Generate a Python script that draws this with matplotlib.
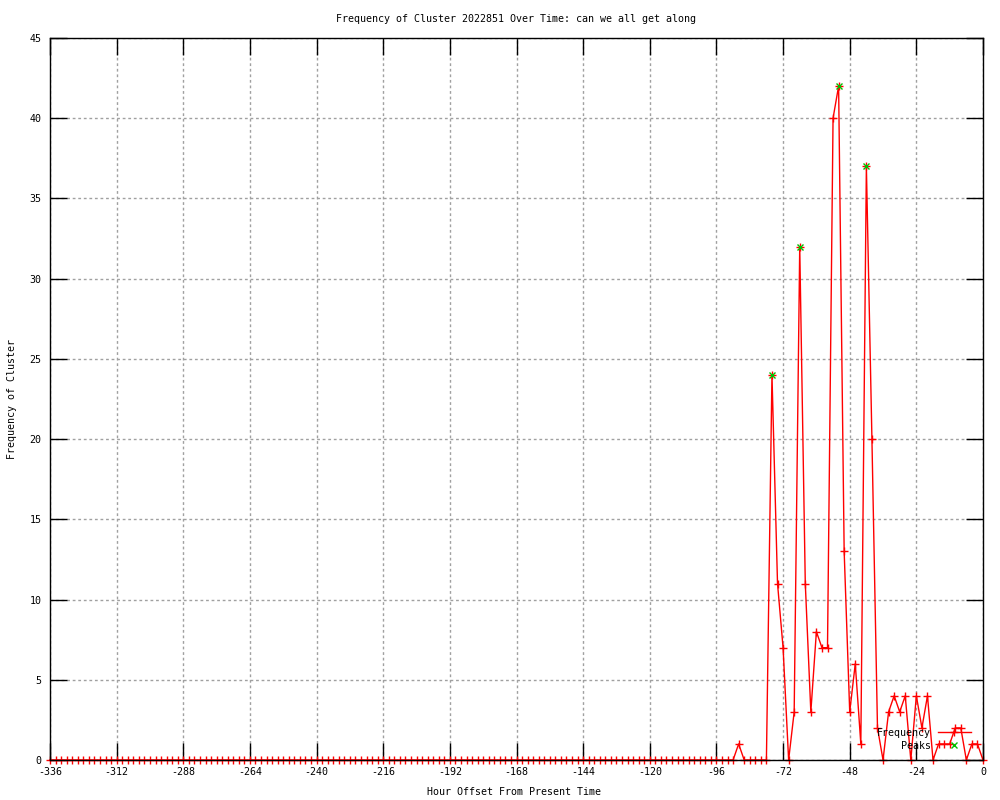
import numpy as np
import matplotlib
matplotlib.use("Agg")
import matplotlib.pyplot as plt

plt.rcParams["font.family"] = ["DejaVu Sans Mono"]
plt.rcParams["axes.unicode_minus"] = False

# hours before now, sampled every 2 hours
hours = np.arange(-336, 1, 2)

# one row per 24 hours (12 samples), last value is hour 0
frequency = [
    0, 0, 0, 0, 0, 0, 0, 0, 0, 0, 0, 0,        # -336 .. -314
    0, 0, 0, 0, 0, 0, 0, 0, 0, 0, 0, 0,        # -312 .. -290
    0, 0, 0, 0, 0, 0, 0, 0, 0, 0, 0, 0,        # -288 .. -266
    0, 0, 0, 0, 0, 0, 0, 0, 0, 0, 0, 0,        # -264 .. -242
    0, 0, 0, 0, 0, 0, 0, 0, 0, 0, 0, 0,        # -240 .. -218
    0, 0, 0, 0, 0, 0, 0, 0, 0, 0, 0, 0,        # -216 .. -194
    0, 0, 0, 0, 0, 0, 0, 0, 0, 0, 0, 0,        # -192 .. -170
    0, 0, 0, 0, 0, 0, 0, 0, 0, 0, 0, 0,        # -168 .. -146
    0, 0, 0, 0, 0, 0, 0, 0, 0, 0, 0, 0,        # -144 .. -122
    0, 0, 0, 0, 0, 0, 0, 0, 0, 0, 0, 0,        # -120 .. -98
    0, 0, 0, 0, 1, 0, 0, 0, 0, 0, 24, 11,      # -96 .. -74
    7, 0, 3, 32, 11, 3, 8, 7, 7, 40, 42, 13,   # -72 .. -50
    3, 6, 1, 37, 20, 2, 0, 3, 4, 3, 4, 0,      # -48 .. -26
    4, 2, 4, 0, 1, 1, 1, 2, 2, 0, 1, 1,        # -24 .. -2
    0,                                         # 0
]

peak_hours = [-76, -66, -52, -42]
peak_values = [24, 32, 42, 37]

xticks = np.arange(-336, 1, 24)
yticks = np.arange(0, 46, 5)

fs = 7.2

fig = plt.figure(figsize=(10, 8), dpi=100)
ax = fig.add_axes([0.05, 0.05, 0.933, 0.9025])

ax.plot(hours, frequency, color="red", lw=1, marker="+", ms=6, mew=1,
        label="Frequency", clip_on=False)
ax.plot(peak_hours, peak_values, ls="none", color="#00c000", marker="x",
        ms=5, mew=1, label="    Peaks", clip_on=False)

ax.set_xlim(-336, 0)
ax.set_ylim(0, 45)
ax.set_xticks(xticks)
ax.set_yticks(yticks)
ax.grid(True, color="#a0a0a0", lw=1, ls=(0, (2, 2)))
ax.set_axisbelow(True)
ax.tick_params(direction="in", top=True, right=True, length=12, width=1,
               labelsize=fs, colors="black")
ax.tick_params(axis="x", pad=5)
ax.tick_params(axis="y", pad=6)
for s in ax.spines.values():
    s.set_linewidth(1)

ax.set_title("Frequency of Cluster 2022851 Over Time: can we all get along",
             fontsize=fs, pad=11.5)
ax.set_xlabel("Hour Offset From Present Time", fontsize=fs)
ax.set_ylabel("Frequency of Cluster", fontsize=fs)
ax.xaxis.set_label_coords(0.497, -0.038)
ax.yaxis.set_label_coords(-0.035, 0.5)

ax.legend(loc="lower right", bbox_to_anchor=(0.987, 0.013), frameon=False,
          markerfirst=False, fontsize=fs, handlelength=3.3, handletextpad=0.7,
          borderpad=0, borderaxespad=0, labelspacing=0.3)

fig.savefig("out.png", dpi=100)
